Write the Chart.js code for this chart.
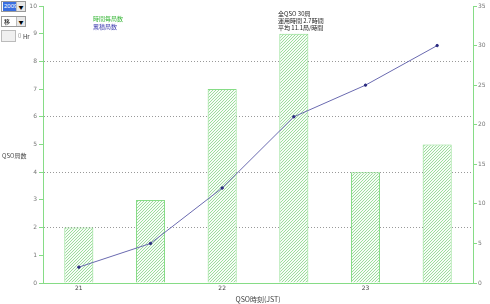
<!DOCTYPE html>
<html>
<head>
<meta charset="utf-8">
<script src="https://cdn.jsdelivr.net/npm/chart.js@4/dist/chart.umd.min.js"></script>
<style>
  body { margin: 0; background: #fff; font-family: "Noto Sans CJK JP", "DejaVu Sans", sans-serif; }
  #wrap { position: relative; width: 490px; height: 304px; }
  canvas { position: absolute; left: 0; top: 0; }
  .ov { position: absolute; font-size: 6px; line-height: 7px; white-space: nowrap; }
  .sel { position: absolute; left: 1px; width: 25px; height: 11px; border: 1px solid #9a9a9a; background: #fff; box-sizing: border-box; font-size: 6px; line-height: 9px; overflow: hidden; }
  .sel .txt { position: absolute; left: 1px; top: 0; padding: 0 1px; font-family: "Liberation Sans Narrow", "Liberation Sans", sans-serif; }
  .sel .btn { position: absolute; right: 0; top: 0; width: 8px; height: 9px; background: #e8e8e8; border-left: 1px solid #bbb; font-size: 5px; text-align: center; line-height: 9px; }
  .spin { position: absolute; left: 1px; top: 30px; width: 15px; height: 12px; border: 1px solid #bbb; background: #f0f0f0; box-sizing: border-box; }
</style>
</head>
<body>
<div id="wrap">
  <canvas id="chart" width="490" height="304"></canvas>
  <div class="sel" style="top:1px"><span class="txt" style="background:#3a6ee0;color:#fff">2009</span><span class="btn">▼</span></div>
  <div class="sel" style="top:16px"><span class="txt" style="font-family:'Noto Sans CJK JP'">移</span><span class="btn">▼</span></div>
  <div class="spin"></div>
  <div class="ov" style="left:18px;top:32px;color:#999">0</div>
  <div class="ov" style="left:23px;top:33px;color:#333">Hr</div>
  <div class="ov" style="left:2px;top:152px;color:#444">QSO局数</div>
  <div class="ov" style="left:93px;top:15px;color:#3cb83c">時間毎局数</div>
  <div class="ov" style="left:93px;top:23px;color:#4040b0">累積局数</div>
  <div class="ov" style="left:278px;top:10px;color:#222">全QSO 30局<br>運用時間 2.7時間<br>平均 11.1局/時間</div>
</div>
<script>
const hours = ['21', '', '22', '', '23', ''];
const perSlot = [2, 3, 7, 9, 4, 5];
const cumulative = [2, 5, 12, 21, 25, 30];
const leftTicks = [0, 10, 1];
const rightTicks = [0, 35, 5];

const green = '#86dc86';

// diagonal green hatching for the bars
function hatch() {
  const c = document.createElement('canvas');
  c.width = 3; c.height = 3;
  const g = c.getContext('2d');
  g.fillStyle = '#f6fcf6';
  g.fillRect(0, 0, 3, 3);
  g.fillStyle = '#9ddc9d';
  g.fillRect(2, 0, 1, 1);
  g.fillRect(1, 1, 1, 1);
  g.fillRect(0, 2, 1, 1);
  return g.createPattern(c, 'repeat');
}

const tickFont = { size: 6, family: 'DejaVu Sans' };

new Chart(document.getElementById('chart'), {
  data: {
    labels: hours,
    datasets: [
      {
        type: 'line',
        label: '累積局数',
        data: cumulative,
        yAxisID: 'y2',
        borderColor: '#6a6ab0',
        borderWidth: 1,
        pointRadius: 1.2,
        pointBackgroundColor: '#2a2a80',
        pointBorderColor: '#2a2a80',
        tension: 0,
        order: 0
      },
      {
        type: 'bar',
        label: '時間毎局数',
        data: perSlot,
        yAxisID: 'y',
        backgroundColor: hatch(),
        borderColor: green,
        borderWidth: 1,
        categoryPercentage: 1,
        barPercentage: 0.405,
        order: 1
      }
    ]
  },
  options: {
    responsive: false,
    animation: false,
    layout: { padding: { top: 6, left: 0, right: 0, bottom: 0 } },
    plugins: { legend: { display: false }, tooltip: { enabled: false } },
    scales: {
      x: {
        grid: { display: false, drawTicks: false },
        border: { color: green, width: 1 },
        ticks: { color: '#444', font: tickFont, padding: 2, maxRotation: 0, autoSkip: false },
        title: { display: true, text: 'QSO時刻(JST)', color: '#444', font: { size: 7, family: 'Noto Sans CJK JP' }, padding: 0 },
        afterFit: s => { s.height = 21; }
      },
      y: {
        position: 'left',
        min: leftTicks[0], max: leftTicks[1],
        ticks: { stepSize: leftTicks[2], color: '#777', font: tickFont, padding: 2 },
        grid: {
          color: c => (c.tick && c.tick.value > 0 && c.tick.value < 10 && c.tick.value % 2 === 0) ? '#999' : 'rgba(0,0,0,0)',
          tickColor: green,
          tickLength: 4,
          lineWidth: 1
        },
        border: { color: green, width: 1, dash: [1, 2] },
        afterFit: s => { s.width = 43; }
      },
      y2: {
        position: 'right',
        min: rightTicks[0], max: rightTicks[1],
        ticks: { stepSize: rightTicks[2], color: '#777', font: tickFont, padding: 1 },
        grid: { drawOnChartArea: false, tickColor: green, tickLength: 4 },
        border: { color: green, width: 1 },
        afterFit: s => { s.width = 17; }
      }
    }
  }
});
</script>
</body>
</html>
